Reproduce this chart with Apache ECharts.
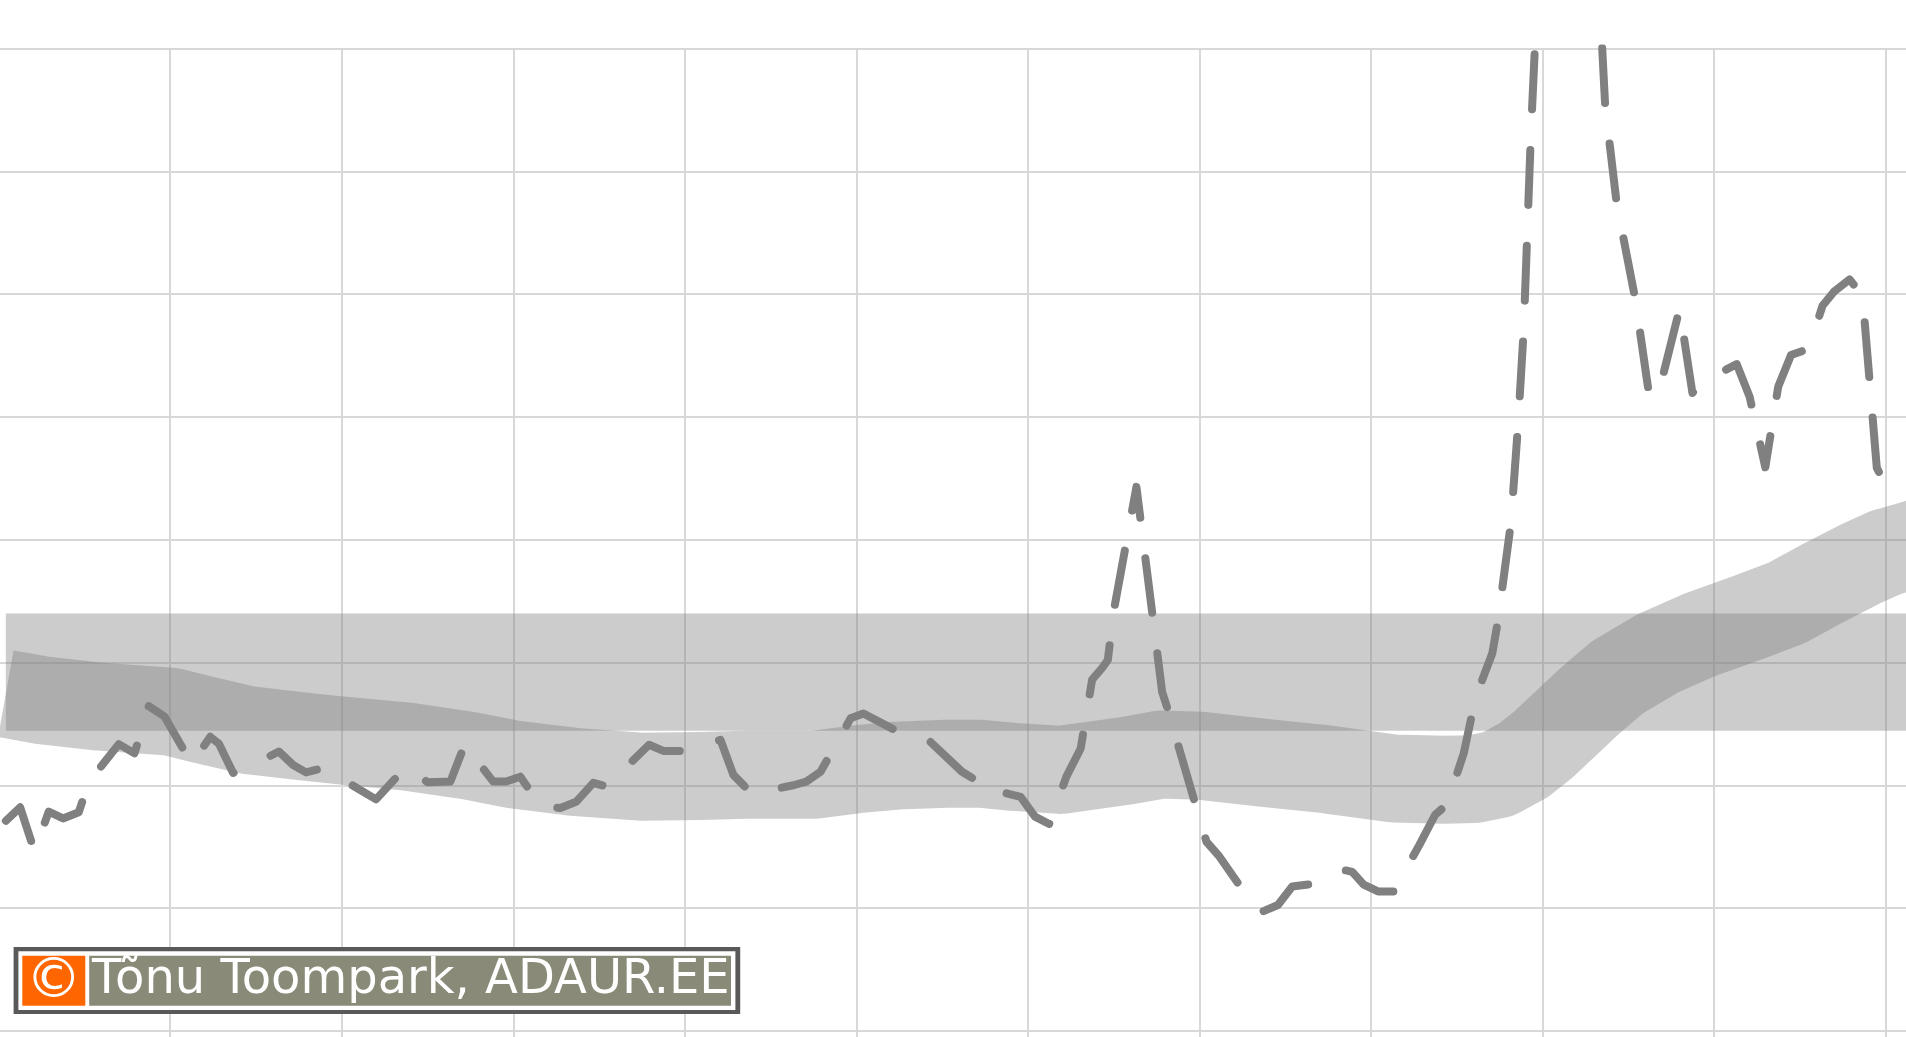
<!DOCTYPE html>
<html>
<head>
<meta charset="utf-8">
<title>Tõnu Toompark, ADAUR.EE</title>
<script src="https://cdn.jsdelivr.net/npm/echarts@6/dist/echarts.min.js"></script>
<style>
  html, body { margin: 0; padding: 0; width: 100%; height: 100%; overflow: hidden; background: #fff; }
  #chart { position: absolute; left: -60px; top: 0; width: 2200px; height: 1230px; }
</style>
</head>
<body>
<div id="chart"></div>
<script>
// measured series (dashed line)
const obsTime = [0.5, 1.5, 2.5, 3.5, 4.5, 5.6, 6.3, 8.4, 9.5, 10.5, 11.6, 13.5, 14.8, 15.4, 16.4, 17.1,
  19.6, 20.6, 21.5, 22.7, 26.4, 28.5, 30.0, 31.6, 32.6, 34.6, 35.5, 36.5, 37.9, 39.3, 40.4, 41.6, 42.5,
  45.5, 46.5, 47.9, 50.5, 51.4, 52.7, 55.6, 56.5, 57.5, 59.6, 60.5, 62.7, 64.9, 67.4, 68.3, 70.0,
  70.5, 71.5, 72.5, 73.5, 74.7, 75.7, 76.5, 77.2, 77.6, 78.0, 79.6, 81.4, 81.8, 83.7, 84.5, 85.4,
  88.0, 88.4, 89.5, 90.5, 92.1, 94.1, 94.7, 95.5, 96.5, 97.6, 99.4, 100.5, 101.3, 102.5, 103.1, 103.8,
  104.5, 104.9, 105.8, 106.3, 106.7, 107.2, 109.7, 112.4, 113.2, 114.5, 115.5, 116.5, 117.6, 118.5, 119.1,
  121.6, 122.5, 123.6, 124.5, 125.4, 126.4, 126.9, 127.6, 128.4, 129.5, 130.4, 131.4, 132.3]
const obsValue = [1.42, 1.64, 0.93, 1.57, 1.46, 1.56, 2.05, 2.67, 2.52, 3.29, 3.12, 2.35, 2.79, 2.68, 2.20, 2.25,
  2.55, 2.33, 2.21, 2.28, 1.77, 2.30, 2.05, 2.06, 2.66, 2.06, 2.06, 2.14, 1.66, 1.63, 1.73, 2.04, 1.98,
  2.66, 2.56, 2.56, 2.74, 2.17, 1.86, 2.00, 2.06, 2.22, 3.09, 3.17, 2.90, 2.77, 2.22, 2.09, 2.04,
  1.87, 1.81, 1.49, 1.37, 2.14, 2.60, 3.72, 3.91, 4.04, 4.82, 6.86, 3.52, 3.23, 1.71, 1.08, 0.84,
  -0.03, -0.06, 0.05, 0.35, 0.40, 0.62, 0.59, 0.38, 0.27, 0.27, 1.03, 1.52, 1.68, 2.52, 3.18, 3.72,
  4.15, 4.69, 6.27, 7.87, 9.44, 12.62, 25.2, 13.05, 11.48, 9.92, 8.31, 8.73, 9.76, 8.39, 8.56,
  8.86, 8.33, 7.18, 8.49, 9.01, 9.09, 9.30, 9.81, 10.04, 10.24, 9.97, 7.17, 6.76]

// normal (wide grey band)
const normTime = [0.5, 2.9, 7.1, 12.0, 14.1, 17.4, 21.1, 24.0, 28.6, 32.7, 36.0, 40.2, 44.9, 49.1, 52.3,
  57.0, 60.0, 62.8, 66.3, 68.7, 71.0, 74.3, 78.9, 81.3, 84.1, 88.3, 92.9, 97.6, 101.1, 103.2,
  104.9, 106.7, 108.1, 109.7, 111.3, 113.2, 116.0, 119.0, 122.5, 125.1, 127.7, 130.2, 132.0, 133.5, 135.5]
const normValue = [3.49, 3.39, 3.28, 3.20, 3.08, 2.90, 2.80, 2.73, 2.63, 2.49, 2.34, 2.22, 2.14, 2.15, 2.17,
  2.17, 2.26, 2.32, 2.35, 2.35, 2.30, 2.25, 2.40, 2.50, 2.48, 2.37, 2.26, 2.11, 2.09, 2.10,
  2.18, 2.41, 2.67, 3.02, 3.37, 3.75, 4.14, 4.45, 4.74, 4.97, 5.30, 5.60, 5.79, 5.89, 6.03]

// horizontal target range
const rangeBand = [2.89, 4.80]
const rangeStart = 0.5

// axis ticks: min, max, step
const xTicks = [0, 144, 12]
const yTicks = [-4, 14, 2]

const chart = echarts.init(document.getElementById('chart'))

const grey = 'rgba(128,128,128,0.4)'
const gridColor = '#d8d8d8'

const option = {
  animation: false,
  backgroundColor: '#fff',
  grid: {
    left: 58.7,
    top: 48.6,
    width: 2058.2,
    height: 1105,
    containLabel: false,
    outerBoundsMode: 'none'
  },
  xAxis: {
    type: 'value',
    min: xTicks[0],
    max: xTicks[1],
    interval: xTicks[2],
    axisLine: { show: false },
    axisTick: { show: false },
    axisLabel: { show: false },
    splitLine: { show: true, lineStyle: { color: gridColor, width: 2 } }
  },
  yAxis: {
    type: 'value',
    min: yTicks[0],
    max: yTicks[1],
    interval: yTicks[2],
    axisLine: { show: false },
    axisTick: { show: false },
    axisLabel: { show: false },
    splitLine: { show: true, lineStyle: { color: gridColor, width: 2 } }
  },
  series: [
    {
      type: 'line',
      silent: true,
      z: 2,
      showSymbol: false,
      data: normTime.map((t, i) => [t, normValue[i]]),
      lineStyle: { color: grey, width: 88, cap: 'butt', join: 'round' },
      markArea: {
        silent: true,
        itemStyle: { color: grey, opacity: 1, borderWidth: 0 },
        data: [[
          { xAxis: rangeStart, yAxis: rangeBand[0] },
          { xAxis: 'max', yAxis: rangeBand[1] }
        ]]
      }
    },
    {
      type: 'line',
      silent: true,
      z: 3,
      showSymbol: false,
      data: obsTime.map((t, i) => [t, obsValue[i]]),
      lineStyle: { color: '#808080', width: 8, type: [55, 40.8], cap: 'round', join: 'round' }
    }
  ],
  graphic: [
    { type: 'rect', z: 100, shape: { x: 73.6, y: 947, width: 726.6, height: 67 }, style: { fill: '#595959' } },
    { type: 'rect', z: 101, shape: { x: 78.4, y: 951.3, width: 717, height: 58.7 }, style: { fill: '#ffffff' } },
    { type: 'rect', z: 102, shape: { x: 82.3, y: 955.7, width: 63, height: 50 }, style: { fill: '#ff6600' } },
    { type: 'rect', z: 102, shape: { x: 149.2, y: 955.7, width: 641.8, height: 50 }, style: { fill: '#8a8a78' } },
    {
      type: 'text', z: 103, x: 113.8, y: 982,
      style: { text: '©', fill: '#fff', font: '56px "DejaVu Sans"', align: 'center', verticalAlign: 'middle' }
    },
    {
      type: 'text', z: 103, x: 152, y: 981,
      style: { text: 'Tõnu Toompark, ADAUR.EE', fill: '#fff', font: '48px "DejaVu Sans"', align: 'left', verticalAlign: 'middle' }
    }
  ]
}

chart.setOption(option)
</script>
</body>
</html>
